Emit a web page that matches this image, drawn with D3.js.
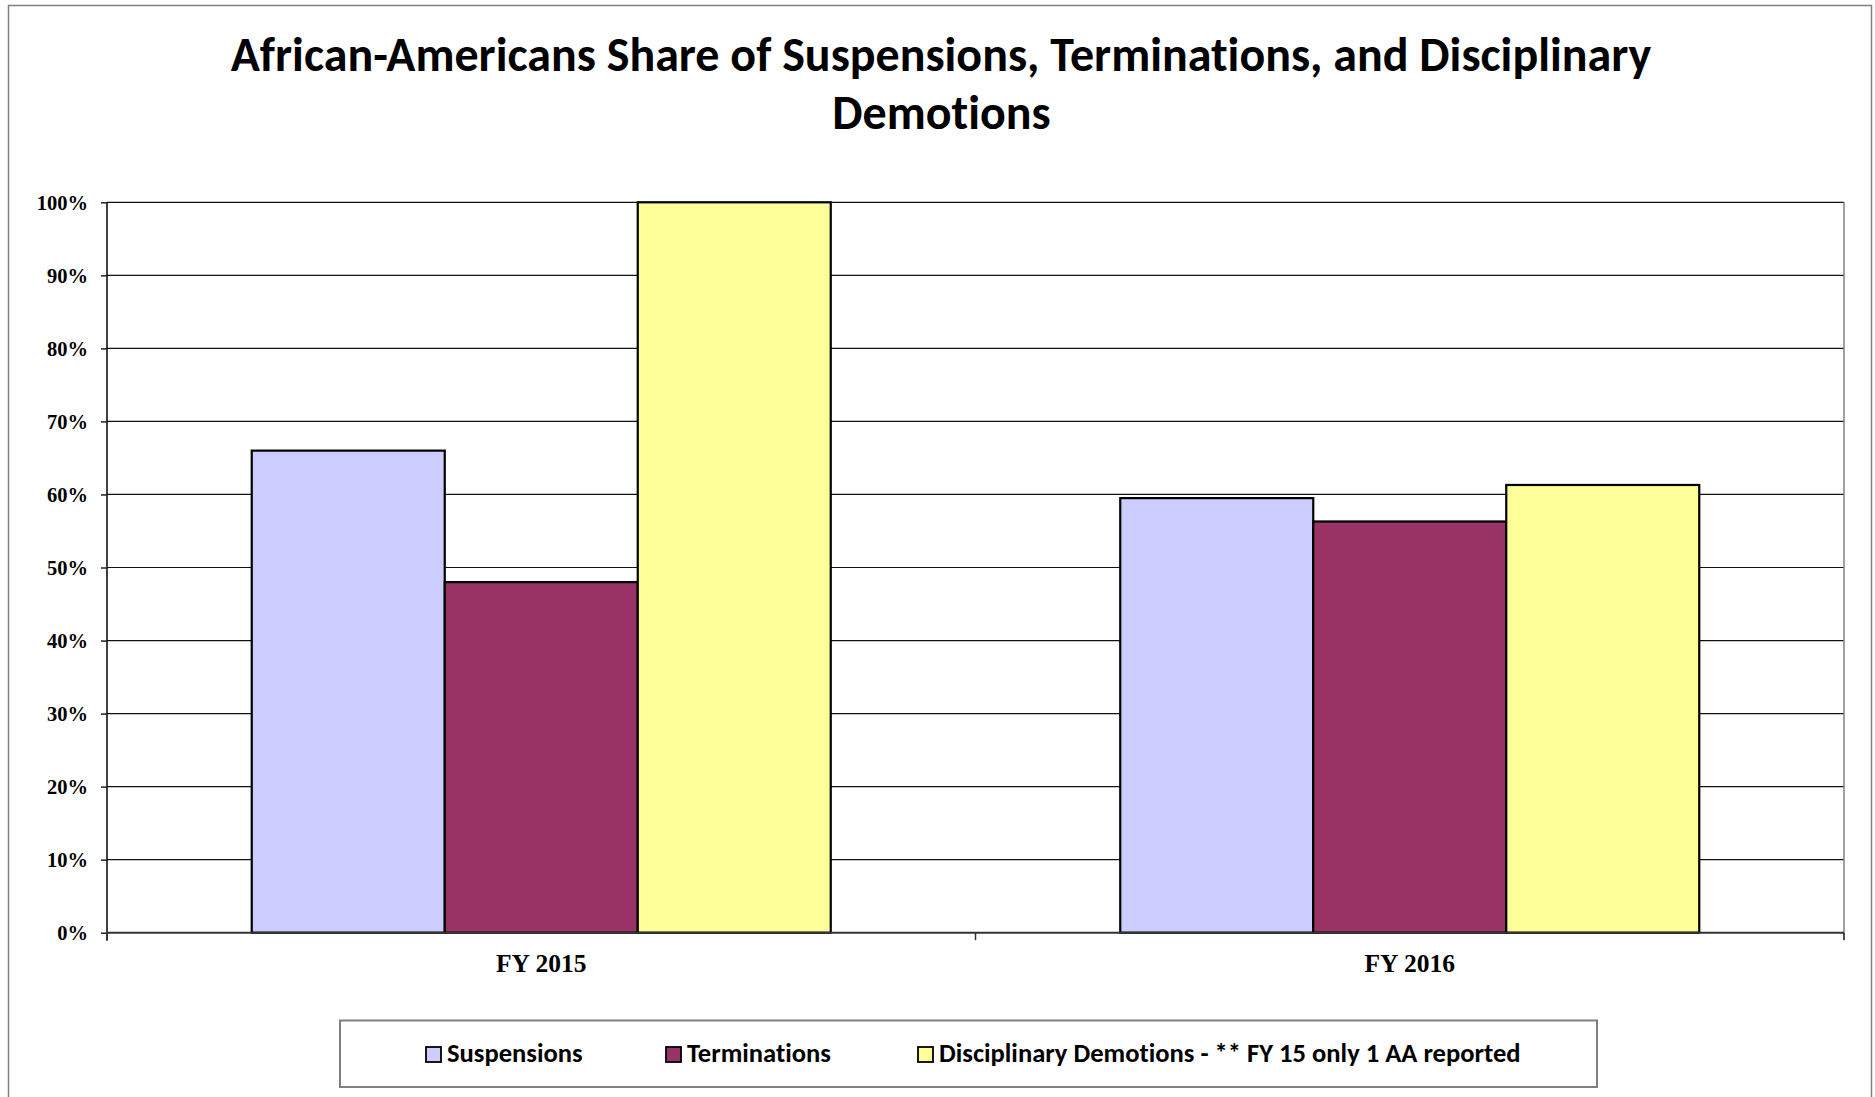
<!DOCTYPE html>
<html>
<head>
<meta charset="utf-8">
<script src="https://d3js.org/d3.v7.min.js"></script>
<style>
  html, body { margin: 0; padding: 0; background: #fff; }
  svg { display: block; }
  text { font-variant-ligatures: none; font-feature-settings: "liga" 0, "clig" 0, "dlig" 0, "calt" 0; letter-spacing: 0.01px; }
</style>
</head>
<body>
<svg id="chart" width="1875" height="1097"></svg>
<script>
const categories = ["FY 2015", "FY 2016"];
const seriesNames = ["Suspensions", "Terminations", "Disciplinary Demotions - ** FY 15 only 1 AA reported"];
const suspensions = [0.66, 0.595];
const terminations = [0.48, 0.563];
const demotions = [1.00, 0.613];
const yTickValues = [0, 0.1, 0.2, 0.3, 0.4, 0.5, 0.6, 0.7, 0.8, 0.9, 1.0];
const titleLines = ["African-Americans Share of Suspensions, Terminations, and Disciplinary", "Demotions"];

const seriesValues = [suspensions, terminations, demotions];
const colors = ["#CCCCFF", "#993366", "#FFFF99"];

const svg = d3.select("#chart");
const plot = { left: 107, right: 1844, top: 202.3, bottom: 932.7 };

const titleFont = "Carlito, Calibri, Lato, 'Open Sans', sans-serif";
const serifFont = "'Liberation Serif', 'Times New Roman', serif";

function fitText(sel, target) {
  const node = sel.node();
  const fs = parseFloat(sel.attr("font-size"));
  const len = node.getComputedTextLength();
  if (len > 0) sel.attr("font-size", fs * target / len);
}

// outer border
svg.append("rect")
  .attr("x", 8.5).attr("y", 5.5)
  .attr("width", 1863).attr("height", 1120)
  .attr("fill", "#fff").attr("stroke", "#7f7f7f").attr("stroke-width", 1.5);

// title
const t1 = svg.append("text").text(titleLines[0])
  .attr("x", 941).attr("y", 71).attr("text-anchor", "middle")
  .attr("font-family", titleFont).attr("font-weight", "bold").attr("font-size", 46).attr("fill", "#000");
fitText(t1, 1421);
svg.append("text").text(titleLines[1])
  .attr("x", 941.5).attr("y", 129.3).attr("text-anchor", "middle")
  .attr("font-family", titleFont).attr("font-weight", "bold").attr("font-size", t1.attr("font-size")).attr("fill", "#000");

// scales
const x0 = d3.scaleBand().domain(categories).range([plot.left, plot.right])
  .paddingInner(1 / 3).paddingOuter(1 / 6);
const x1 = d3.scaleBand().domain(d3.range(seriesNames.length)).range([0, x0.bandwidth()]);
const y = d3.scaleLinear().domain([0, 1]).range([plot.bottom, plot.top]);

// gridlines
svg.append("g").selectAll("line").data(yTickValues.filter(v => v > 0)).join("line")
  .attr("x1", plot.left).attr("x2", plot.right)
  .attr("y1", d => y(d)).attr("y2", d => y(d))
  .attr("stroke", "#111").attr("stroke-width", 1.2);

// plot right border
svg.append("line")
  .attr("x1", plot.right).attr("x2", plot.right)
  .attr("y1", plot.top).attr("y2", plot.bottom + 7)
  .attr("stroke", "#808080").attr("stroke-width", 1.5);

// bars
const groups = svg.append("g").selectAll("g").data(categories).join("g")
  .attr("transform", d => `translate(${x0(d)},0)`);
groups.selectAll("rect")
  .data((d, i) => seriesValues.map((vals, s) => ({ s, v: vals[i] })))
  .join("rect")
  .attr("x", d => x1(d.s))
  .attr("width", x1.bandwidth())
  .attr("y", d => y(d.v))
  .attr("height", d => y(0) - y(d.v))
  .attr("fill", d => colors[d.s])
  .attr("stroke", "#000").attr("stroke-width", 2.2);

// y axis
const yAxis = svg.append("g").attr("transform", `translate(${plot.left},0)`)
  .call(d3.axisLeft(y).tickValues(yTickValues).tickFormat(d3.format(".0%")).tickSize(6).tickPadding(13));
yAxis.select(".domain").attr("stroke", "#000").attr("stroke-width", 1.5)
  .attr("d", `M0,${plot.top}V${plot.bottom + 8}`);
yAxis.selectAll(".tick line").attr("stroke", "#222").attr("stroke-width", 1.5);
yAxis.selectAll(".tick text")
  .attr("font-family", serifFont).attr("font-weight", "bold").attr("font-size", 20.5)
  .attr("fill", "#000").attr("dy", "0.34em");

// x axis
const xAxis = svg.append("g").attr("transform", `translate(0,${plot.bottom})`)
  .call(d3.axisBottom(x0).tickSize(0).tickPadding(0));
xAxis.select(".domain").attr("stroke", "#333").attr("stroke-width", 2)
  .attr("d", `M${plot.left},0H${plot.right}`);
xAxis.selectAll(".tick text")
  .attr("font-family", serifFont).attr("font-weight", "bold").attr("font-size", 25.5)
  .attr("fill", "#000").attr("dy", null).attr("y", 39);
const bounds = [plot.left, (plot.left + plot.right) / 2, plot.right];
xAxis.selectAll(".btick").data(bounds).join("line").attr("class", "btick")
  .attr("x1", d => d).attr("x2", d => d).attr("y1", 0).attr("y2", 7.5)
  .attr("stroke", "#333").attr("stroke-width", 1.5);

// legend
const lg = svg.append("g");
lg.append("rect").attr("x", 340).attr("y", 1020.5).attr("width", 1257).attr("height", 66.5)
  .attr("fill", "#fff").attr("stroke", "#7f7f7f").attr("stroke-width", 2);
const legendSwatchX = [426, 666, 918];
const items = lg.selectAll("g.item").data(seriesNames).join("g").attr("class", "item")
  .attr("transform", (d, i) => `translate(${legendSwatchX[i]},0)`);
items.append("rect").attr("x", 0).attr("y", 1047).attr("width", 15).attr("height", 15)
  .attr("fill", (d, i) => colors[i]).attr("stroke", "#000").attr("stroke-width", 1.8);
const ltexts = items.append("text").text(d => d)
  .attr("x", 21).attr("y", 1062)
  .attr("font-family", titleFont).attr("font-weight", "bold").attr("font-size", 23).attr("fill", "#000");
const longest = d3.select(ltexts.nodes()[2]);
fitText(longest, 582);
ltexts.attr("font-size", longest.attr("font-size"));
</script>
</body>
</html>
